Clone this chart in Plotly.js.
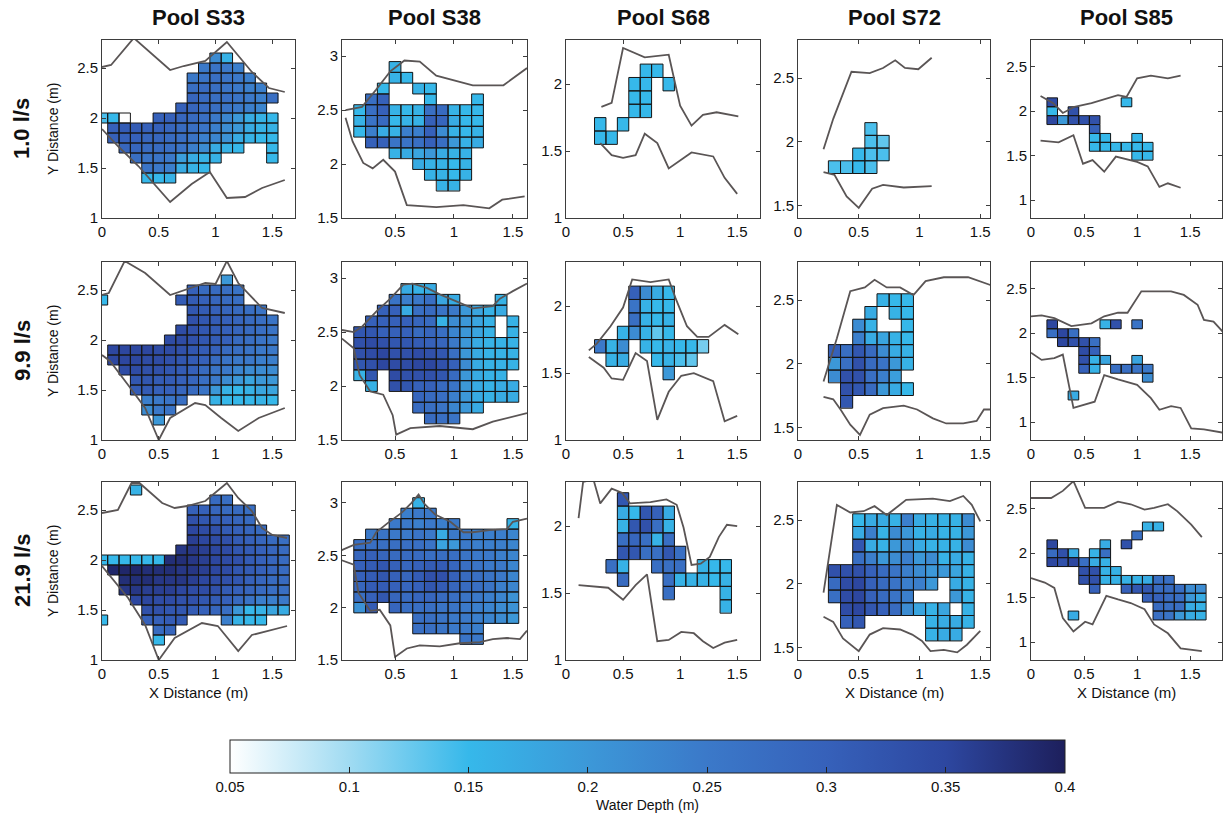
<!DOCTYPE html>
<html>
<head>
<meta charset="utf-8">
<script src="https://cdn.plot.ly/plotly-3.0.1.min.js"></script>
<style>html,body{margin:0;padding:0;background:#fff;}#chart{width:1231px;height:822px;}</style>
</head>
<body>
<div id="chart"></div>
<script>
const _ = null;
const poolNames = ['Pool S33', 'Pool S38', 'Pool S68', 'Pool S72', 'Pool S85'];
const flowLabels = ['1.0 l/s', '9.9 l/s', '21.9 l/s'];
const depthTicks = [0.05, 0.1, 0.15, 0.2, 0.25, 0.3, 0.35, 0.4];

// ---------- Row 1 : 1.0 l/s ----------
const S33_1_x = [0,0.1,0.2,0.3,0.4,0.5,0.6,0.7,0.8,0.9,1.0,1.1,1.2,1.3,1.4,1.5];
const S33_1_y = [2.6,2.5,2.4,2.3,2.2,2.1,2.0,1.9,1.8,1.7,1.6,1.5,1.4];
const S33_1_depth = [
 [_,_,_,_,_,_,_,_,_,_,.22,.16,_,_,_,_],
 [_,_,_,_,_,_,_,_,_,.25,.26,.25,.24,_,_,_],
 [_,_,_,_,_,_,_,_,.25,.26,.27,.26,.25,.24,_,_],
 [_,_,_,_,_,_,_,_,.27,.28,.27,.26,.25,.24,.24,_],
 [_,_,_,_,_,_,_,_,.29,.28,.27,.27,.26,.25,.24,.27],
 [_,_,_,_,_,_,_,.3,.29,.28,.27,.26,.25,.24,.23,_],
 [.14,.15,.05,_,_,.3,.3,.29,.28,.27,.25,.23,.2,.17,.16,.15],
 [_,.3,.31,.31,.3,.3,.29,.28,.27,.26,.24,.22,.2,.17,.16,.16],
 [_,.3,.3,.3,.29,.29,.28,.27,.26,.24,.23,.21,.17,.16,.15,.15],
 [_,_,.29,.29,.28,.28,.27,.26,.24,.22,.17,.16,.15,_,_,.15],
 [_,_,_,.27,.26,.26,.25,.19,.17,.16,.16,_,_,_,_,.15],
 [_,_,_,_,.26,.25,.24,.17,.16,.15,_,_,_,_,_,_],
 [_,_,_,_,.15,.15,.16,_,_,_,_,_,_,_,_,_]
];
const S33_1_upper = [[0,2.51],[0.08,2.53],[0.28,2.8],[0.6,2.48],[0.72,2.52],[0.91,2.57],[1.1,2.76],[1.32,2.46],[1.47,2.3],[1.61,2.26]];
const S33_1_lower = [[0,1.89],[0.14,1.72],[0.32,1.52],[0.6,1.16],[0.79,1.34],[0.95,1.46],[1.1,1.2],[1.26,1.21],[1.41,1.3],[1.61,1.38]];

const S38_1_x = [0.2,0.3,0.4,0.5,0.6,0.7,0.8,0.9,1.0,1.1,1.2];
const S38_1_y = [2.9,2.8,2.7,2.6,2.5,2.4,2.3,2.2,2.1,2.0,1.9,1.8];
const S38_1_depth = [
 [_,_,_,.16,_,_,_,_,_,_,_],
 [_,_,_,.16,.15,_,_,_,_,_,_],
 [_,_,.15,_,_,.16,.15,_,_,_,_],
 [_,.27,.3,_,_,_,.15,_,_,_,.15],
 [.15,.27,.3,.16,.15,.16,.27,.28,.16,.15,.15],
 [.16,.26,.28,.15,.16,.16,.3,.29,.17,.15,.15],
 [.15,.24,.17,.16,.24,.24,.3,.22,.16,.15,.16],
 [_,.3,.3,.26,.26,.27,.3,.27,.2,.16,.17],
 [_,_,_,.16,.17,.18,.2,.17,.16,.16,_],
 [_,_,_,_,_,.17,.16,.16,.15,.16,_],
 [_,_,_,_,_,_,.16,.16,.15,.16,_],
 [_,_,_,_,_,_,_,.16,.16,_,_]
];
const S38_1_upper = [[0.08,2.5],[0.22,2.53],[0.34,2.69],[0.46,2.86],[0.58,2.96],[0.71,2.95],[0.85,2.82],[1.16,2.73],[1.42,2.73],[1.62,2.89]];
const S38_1_lower = [[0.08,2.43],[0.14,2.21],[0.23,2.01],[0.31,1.96],[0.4,2.04],[0.5,1.93],[0.6,1.62],[0.85,1.6],[1.08,1.62],[1.3,1.59],[1.41,1.67],[1.6,1.7]];

const S68_1_x = [0.3,0.4,0.5,0.6,0.7,0.8,0.9];
const S68_1_y = [2.1,2.0,1.9,1.8,1.7,1.6];
const S68_1_depth = [
 [_,_,_,_,.15,.15,_],
 [_,_,_,.15,.15,_,.15],
 [_,_,_,.15,.15,_,_],
 [_,_,_,.15,.15,_,_],
 [.15,_,.15,_,_,_,_],
 [.15,.15,_,_,_,_,_]
];
const S68_1_upper = [[0.31,1.83],[0.4,1.86],[0.5,2.27],[0.69,2.2],[0.9,2.22],[1.0,1.84],[1.1,1.69],[1.2,1.77],[1.32,1.79],[1.51,1.76]];
const S68_1_lower = [[0.3,1.56],[0.4,1.47],[0.5,1.45],[0.61,1.47],[0.69,1.63],[0.8,1.56],[0.9,1.37],[1.0,1.43],[1.1,1.49],[1.29,1.46],[1.39,1.3],[1.5,1.18]];

const S72_1_x = [0.3,0.4,0.5,0.6,0.7];
const S72_1_y = [2.1,2.0,1.9,1.8];
const S72_1_depth = [
 [_,_,_,.14,_],
 [_,_,_,.14,.13],
 [_,_,.15,.14,.14],
 [.14,.14,.15,.14,_]
];
const S72_1_upper = [[0.21,1.94],[0.29,2.18],[0.44,2.55],[0.59,2.54],[0.7,2.58],[0.8,2.64],[0.88,2.58],[0.99,2.57],[1.1,2.66]];
const S72_1_lower = [[0.21,1.76],[0.3,1.74],[0.4,1.57],[0.5,1.48],[0.61,1.63],[0.7,1.66],[0.87,1.64],[1.1,1.65]];

const S85_1_x = [0.2,0.3,0.4,0.5,0.6,0.7,0.8,0.9,1.0,1.1];
const S85_1_y = [2.1,2.0,1.9,1.8,1.7,1.6,1.5];
const S85_1_depth = [
 [.34,_,_,_,_,_,_,.15,_,_],
 [.15,_,.33,_,_,_,_,_,_,_],
 [.35,.2,.33,.33,.33,_,_,_,_,_],
 [_,_,_,_,.3,_,_,_,_,_],
 [_,_,_,_,.15,.15,_,_,.15,_],
 [_,_,_,_,.15,.15,.15,.15,.15,.15],
 [_,_,_,_,_,_,_,_,.15,.15]
];
const S85_1_upper = [[0.09,2.17],[0.21,2.09],[0.3,1.98],[0.41,2.05],[0.57,2.09],[0.69,2.13],[0.82,2.18],[0.9,2.16],[1.0,2.37],[1.13,2.4],[1.29,2.37],[1.41,2.4]];
const S85_1_lower = [[0.09,1.67],[0.26,1.65],[0.4,1.73],[0.49,1.41],[0.58,1.45],[0.69,1.32],[0.8,1.49],[1.0,1.43],[1.1,1.38],[1.21,1.15],[1.29,1.19],[1.41,1.14]];

// ---------- Row 2 : 9.9 l/s ----------
const S33_2_x = [0,0.1,0.2,0.3,0.4,0.5,0.6,0.7,0.8,0.9,1.0,1.1,1.2,1.3,1.4,1.5];
const S33_2_y = [2.6,2.5,2.4,2.3,2.2,2.1,2.0,1.9,1.8,1.7,1.6,1.5,1.4,1.3,1.2];
const S33_2_depth = [
 [_,_,_,_,_,_,_,_,_,_,_,.2,_,_,_,_],
 [_,_,_,_,_,_,_,_,.3,.28,.28,.27,.26,_,_,_],
 [.15,_,_,_,_,_,_,.31,.31,.3,.29,.28,.27,_,_,_],
 [_,_,_,_,_,_,_,_,.32,.31,.3,.29,.28,.27,.26,_],
 [_,_,_,_,_,_,_,_,.33,.32,.31,.3,.29,.28,.27,.26],
 [_,_,_,_,_,_,_,.34,.33,.32,.31,.3,.29,.28,.27,.26],
 [_,_,_,_,_,_,.34,.34,.33,.32,.31,.3,.28,.27,.26,.25],
 [_,.35,.35,.35,.35,.34,.34,.33,.32,.31,.3,.28,.27,.26,.25,.25],
 [_,.35,.35,.35,.34,.34,.33,.32,.31,.3,.28,.26,.25,.25,.24,.24],
 [_,_,.34,.34,.33,.33,.32,.31,.3,.28,.26,.25,.23,.22,.22,.22],
 [_,_,_,.32,.32,.31,.31,.3,.29,.27,.25,.22,.2,.18,.2,.2],
 [_,_,_,.31,.31,.3,.3,.29,.28,.26,.2,.16,.15,.16,.18,.18],
 [_,_,_,_,.24,.25,.26,.27,_,_,.16,.15,.15,.15,.16,.15],
 [_,_,_,_,.22,.25,.26,_,_,_,_,_,_,_,_,_],
 [_,_,_,_,_,.2,_,_,_,_,_,_,_,_,_,_]
];
const S33_2_upper = [[0,2.45],[0.06,2.47],[0.2,2.79],[0.38,2.67],[0.6,2.45],[0.73,2.5],[0.91,2.57],[1.0,2.56],[1.1,2.79],[1.2,2.57],[1.41,2.32],[1.61,2.27]];
const S33_2_lower = [[0,1.85],[0.07,1.79],[0.23,1.55],[0.38,1.32],[0.5,1.0],[0.6,1.22],[0.82,1.37],[0.91,1.35],[1.05,1.22],[1.2,1.09],[1.38,1.22],[1.61,1.32]];

const S38_2_x = [0.2,0.3,0.4,0.5,0.6,0.7,0.8,0.9,1.0,1.1,1.2,1.3,1.4,1.5];
const S38_2_y = [2.9,2.8,2.7,2.6,2.5,2.4,2.3,2.2,2.1,2.0,1.9,1.8,1.7];
const S38_2_depth = [
 [_,_,_,_,.17,.16,.17,_,_,_,_,_,_,_],
 [_,_,_,.26,.24,.25,.27,.18,.17,_,_,_,.16,_],
 [_,_,.3,.3,.17,.27,.28,.26,.25,.2,.18,.16,.17,_],
 [_,.3,.3,.3,.3,.29,.28,.16,.22,.2,.18,.16,_,.16],
 [.32,.32,.3,.3,.3,.28,.29,.27,.23,.2,.18,.16,_,.16],
 [.33,.34,.33,.32,.32,.31,.3,.29,.25,.2,.17,.16,.16,.16],
 [.33,.34,.35,.33,.33,.34,.33,.32,.27,.2,.17,.16,.16,.16],
 [.32,.33,.35,.34,.34,.35,.35,.33,.3,.22,.17,.16,.16,.16],
 [.16,.32,_,.34,.33,.33,.33,.32,.28,.2,.17,.16,.16,_],
 [_,.16,_,.33,.32,.3,.3,.28,.26,.2,.17,.16,.17,.17],
 [_,_,_,_,_,.29,.28,.27,.24,.2,.17,.16,.17,.17],
 [_,_,_,_,_,.28,.27,.26,.23,.2,.17,_,_,_],
 [_,_,_,_,_,_,.28,.27,.26,_,_,_,_,_]
];
const S38_2_upper = [[0.05,2.52],[0.15,2.5],[0.22,2.55],[0.34,2.69],[0.46,2.81],[0.57,2.94],[0.65,2.95],[0.77,2.91],[0.88,2.85],[1.05,2.77],[1.16,2.72],[1.33,2.74],[1.39,2.81],[1.5,2.88],[1.62,2.95]];
const S38_2_lower = [[0.05,2.44],[0.15,2.35],[0.2,2.1],[0.29,1.95],[0.4,1.92],[0.48,1.73],[0.51,1.55],[0.63,1.61],[0.88,1.63],[1.16,1.6],[1.33,1.67],[1.5,1.72],[1.62,1.75]];

const S68_2_x = [0.3,0.4,0.5,0.6,0.7,0.8,0.9,1.0,1.1,1.2];
const S68_2_y = [2.1,2.0,1.9,1.8,1.7,1.6,1.5];
const S68_2_depth = [
 [_,_,_,.3,.22,.17,.15,_,_,_],
 [_,_,_,.26,.16,.15,.15,_,_,_],
 [_,_,_,.27,.16,.15,.16,_,_,_],
 [_,_,.16,.22,.16,.13,.15,_,_,_],
 [.25,.16,.22,_,.16,.15,.16,.15,.15,.12],
 [_,.16,.17,_,_,.15,.16,.14,.13,_],
 [_,_,_,_,_,_,.2,_,_,_]
];
const S68_2_upper = [[0.2,1.67],[0.27,1.72],[0.39,1.85],[0.5,1.99],[0.58,2.2],[0.74,2.18],[0.9,2.2],[0.96,2.06],[1.06,1.85],[1.15,1.77],[1.25,1.77],[1.39,1.86],[1.51,1.79]];
const S68_2_lower = [[0.2,1.62],[0.33,1.54],[0.4,1.46],[0.5,1.45],[0.61,1.65],[0.71,1.59],[0.8,1.15],[0.9,1.36],[1.01,1.48],[1.12,1.5],[1.29,1.44],[1.39,1.14],[1.5,1.18]];

const S72_2_x = [0.3,0.4,0.5,0.6,0.7,0.8,0.9];
const S72_2_y = [2.5,2.4,2.3,2.2,2.1,2.0,1.9,1.8,1.7];
const S72_2_depth = [
 [_,_,_,_,.16,.15,.15],
 [_,_,_,.17,_,.16,.15],
 [_,_,.22,.16,_,_,.15],
 [_,_,.24,.17,.18,.16,.15],
 [.3,.27,.32,.28,.22,.17,.16],
 [.2,.27,.33,.28,.26,.2,.16],
 [.22,.33,.33,.27,.24,.19,_],
 [_,.33,.32,.28,.2,.17,.15],
 [_,.32,_,_,_,_,_]
];
const S72_2_upper = [[0.21,1.86],[0.32,2.2],[0.43,2.57],[0.55,2.6],[0.63,2.66],[0.73,2.6],[0.84,2.6],[0.95,2.54],[1.05,2.65],[1.2,2.68],[1.4,2.68],[1.53,2.64],[1.61,2.61]];
const S72_2_lower = [[0.21,1.74],[0.29,1.72],[0.35,1.64],[0.43,1.52],[0.51,1.44],[0.59,1.6],[0.7,1.65],[0.87,1.67],[0.98,1.64],[1.11,1.57],[1.22,1.53],[1.36,1.53],[1.47,1.55],[1.53,1.64],[1.61,1.64]];

const S85_2_x = [0.2,0.3,0.4,0.5,0.6,0.7,0.8,0.9,1.0,1.1];
const S85_2_y = [2.1,2.0,1.9,1.8,1.7,1.6,1.5,1.4,1.3];
const S85_2_depth = [
 [.35,_,_,_,_,.16,.33,_,.26,_],
 [.27,.35,.27,_,_,_,_,_,_,_],
 [_,.35,.33,.33,.27,_,_,_,_,_],
 [_,_,_,.34,.3,_,_,_,_,_],
 [_,_,_,.33,.16,.18,_,_,.18,_],
 [_,_,_,.3,.16,_,.27,.27,.26,.25],
 [_,_,_,_,_,_,_,_,_,.22],
 [_,_,_,_,_,_,_,_,_,_],
 [_,_,.17,_,_,_,_,_,_,_]
];
const S85_2_upper = [[0,2.19],[0.1,2.2],[0.22,2.17],[0.38,2.08],[0.57,2.11],[0.69,2.19],[0.82,2.23],[0.91,2.23],[1.04,2.47],[1.16,2.47],[1.32,2.47],[1.44,2.43],[1.57,2.32],[1.63,2.15],[1.72,2.13],[1.82,2.0]];
const S85_2_lower = [[0,1.78],[0.1,1.7],[0.22,1.72],[0.3,1.76],[0.4,1.16],[0.6,1.23],[0.69,1.53],[0.82,1.48],[1.0,1.42],[1.13,1.27],[1.21,1.14],[1.32,1.18],[1.41,1.16],[1.51,0.93],[1.63,0.92],[1.82,0.88]];

// ---------- Row 3 : 21.9 l/s ----------
const S33_3_x = [0,0.1,0.2,0.3,0.4,0.5,0.6,0.7,0.8,0.9,1.0,1.1,1.2,1.3,1.4,1.5,1.6];
const S33_3_y = [2.7,2.6,2.5,2.4,2.3,2.2,2.1,2.0,1.9,1.8,1.7,1.6,1.5,1.4,1.3,1.2];
const S33_3_depth = [
 [_,_,_,.16,_,_,_,_,_,_,_,_,_,_,_,_,_],
 [_,_,_,_,_,_,_,_,_,_,.28,.27,_,_,_,_,_],
 [_,_,_,_,_,_,_,_,.3,.3,.29,.28,.28,.27,_,_,_],
 [_,_,_,_,_,_,_,_,.33,.32,.31,.3,.29,.28,_,_,_],
 [_,_,_,_,_,_,_,_,.35,.34,.33,.31,.3,.29,.28,_,_],
 [_,_,_,_,_,_,_,_,.36,.35,.34,.33,.31,.3,.29,.28,.27],
 [_,_,_,_,_,_,_,.37,.37,.36,.35,.34,.32,.31,.3,.29,.28],
 [.15,.15,.15,.15,.15,.15,.38,.38,.37,.36,.35,.34,.33,.31,.3,.29,.28],
 [_,.39,.39,.39,.38,.38,.38,.37,.37,.36,.35,.34,.32,.31,.3,.29,.28],
 [_,_,.38,.38,.38,.37,.37,.37,.36,.35,.34,.33,.32,.3,.29,.28,.28],
 [_,_,.37,.37,.36,.36,.36,.35,.34,.34,.33,.31,.3,.29,.28,.27,.27],
 [_,_,_,.35,.35,.34,.34,.33,.33,.32,.31,.3,.28,.26,.24,.24,.25],
 [_,_,_,_,.33,.33,.32,.32,.31,.3,.29,.27,.2,.15,.16,.18,.17],
 [.15,_,_,_,.3,.3,.31,.31,_,_,_,.24,.16,.15,.15,_,_],
 [_,_,_,_,_,.28,.29,_,_,_,_,_,_,_,_,_,_],
 [_,_,_,_,_,.15,_,_,_,_,_,_,_,_,_,_,_]
];
const S33_3_upper = [[0,2.47],[0.14,2.5],[0.26,2.77],[0.33,2.77],[0.53,2.57],[0.64,2.52],[0.75,2.54],[0.91,2.59],[1.1,2.77],[1.2,2.62],[1.32,2.49],[1.41,2.32],[1.5,2.25],[1.63,2.22]];
const S33_3_lower = [[0,1.94],[0.23,1.62],[0.38,1.35],[0.5,1.0],[0.64,1.22],[0.88,1.37],[1.02,1.34],[1.11,1.22],[1.2,1.09],[1.32,1.25],[1.47,1.29],[1.63,1.34]];

const S38_3_x = [0.2,0.3,0.4,0.5,0.6,0.7,0.8,0.9,1.0,1.1,1.2,1.3,1.4,1.5];
const S38_3_y = [3.0,2.9,2.8,2.7,2.6,2.5,2.4,2.3,2.2,2.1,2.0,1.9,1.8,1.7];
const S38_3_depth = [
 [_,_,_,_,_,.16,_,_,_,_,_,_,_,_],
 [_,_,_,_,.24,.25,.25,_,_,_,_,_,_,_],
 [_,_,_,.25,.25,.24,.25,.24,.25,_,_,_,_,.16],
 [_,.25,.26,.25,.25,.26,.25,.17,.25,.25,.24,.24,.24,.23],
 [.27,.27,.27,.27,.27,.27,.26,.18,.2,.25,.24,.24,.24,.23],
 [.29,.3,.29,.28,.28,.28,.27,.27,.27,.26,.25,.25,.24,.23],
 [.3,.31,.32,.3,.29,.3,.31,.31,.29,.27,.26,.25,.25,.23],
 [.3,.31,.32,.3,.29,.31,.33,.33,.3,.28,.27,.26,.25,.23],
 [.29,.31,.31,.3,.29,.3,.32,.31,.29,.28,.27,.26,.24,.23],
 [.27,.3,.32,.29,.28,.29,.29,.28,.27,.26,.25,.24,.23,.21],
 [.21,.31,_,.29,.27,.27,.27,.26,.26,.25,.24,.23,.22,.21],
 [_,_,_,_,_,.27,.27,.26,.25,.25,.24,.23,.22,.2],
 [_,_,_,_,_,.27,.27,.26,.25,.25,.24,_,_,_],
 [_,_,_,_,_,_,_,_,_,.26,.25,_,_,_]
];
const S38_3_upper = [[0.03,2.54],[0.15,2.6],[0.29,2.62],[0.34,2.72],[0.44,2.81],[0.56,2.91],[0.64,3.0],[0.7,3.08],[0.75,2.99],[0.84,2.89],[0.97,2.82],[1.08,2.72],[1.16,2.72],[1.3,2.74],[1.45,2.75],[1.5,2.82],[1.62,2.85]];
const S38_3_lower = [[0.03,2.46],[0.15,2.41],[0.19,2.14],[0.29,1.97],[0.37,1.98],[0.46,1.83],[0.5,1.53],[0.6,1.61],[0.71,1.64],[0.88,1.63],[1.05,1.66],[1.22,1.67],[1.33,1.7],[1.45,1.71],[1.56,1.7],[1.62,1.78]];

const S68_3_x = [0.4,0.5,0.6,0.7,0.8,0.9,1.0,1.1,1.2,1.3,1.4];
const S68_3_y = [2.2,2.1,2.0,1.9,1.8,1.7,1.6,1.5,1.4];
const S68_3_depth = [
 [_,.32,_,_,_,_,_,_,_,_,_],
 [_,.17,.15,.32,.3,.17,_,_,_,_,_],
 [_,.16,.32,.33,.27,.16,_,_,_,_,_],
 [_,.27,.29,.27,.16,.27,_,_,_,_,_],
 [_,.32,.32,.27,.27,.32,.27,_,_,_,_],
 [.27,.16,_,_,.27,.27,.27,_,.16,.15,.15],
 [_,.28,_,_,_,.27,.16,.16,.16,.15,.16],
 [_,_,_,_,_,.27,_,_,_,_,.16],
 [_,_,_,_,_,_,_,_,_,_,.16]
];
const S68_3_upper = [[0.11,2.06],[0.15,2.33],[0.24,2.35],[0.3,2.17],[0.4,2.28],[0.49,2.25],[0.56,2.17],[0.74,2.18],[0.88,2.2],[0.97,2.16],[1.03,1.99],[1.1,1.71],[1.18,1.72],[1.26,1.77],[1.34,1.92],[1.41,2.01],[1.5,2.0]];
const S68_3_lower = [[0.11,1.56],[0.37,1.54],[0.5,1.45],[0.61,1.56],[0.71,1.64],[0.8,1.14],[0.9,1.15],[1.01,1.21],[1.12,1.2],[1.2,1.14],[1.29,1.09],[1.39,1.13],[1.5,1.15]];

const S72_3_x = [0.3,0.4,0.5,0.6,0.7,0.8,0.9,1.0,1.1,1.2,1.3,1.4];
const S72_3_y = [2.5,2.4,2.3,2.2,2.1,2.0,1.9,1.8,1.7,1.6];
const S72_3_depth = [
 [_,_,.15,.17,.17,.16,.24,.17,.16,.16,.16,.22],
 [_,_,.17,.24,.16,.22,.2,.16,.17,.16,.16,.2],
 [_,_,.32,.17,.16,.2,.22,.17,.16,.16,.16,.22],
 [_,_,.27,.24,.2,.22,.24,.2,.22,.16,.17,.16],
 [.33,.33,.33,.3,.28,.26,.24,.22,.2,.2,.18,.16],
 [.28,.34,.35,.3,.28,.26,.24,.24,.2,_,.17,.16],
 [.27,.34,.35,.3,.28,.26,.24,_,_,_,.2,.16],
 [_,.34,.35,.32,.3,.28,.22,.18,.16,.18,_,.16],
 [_,.3,.32,_,_,_,_,_,.16,.17,.17,.16],
 [_,_,_,_,_,_,_,_,.16,.17,.17,_]
];
const S72_3_upper = [[0.21,1.93],[0.32,2.62],[0.43,2.56],[0.54,2.57],[0.63,2.61],[0.73,2.54],[0.81,2.6],[0.89,2.66],[1.11,2.67],[1.25,2.65],[1.36,2.69],[1.43,2.62],[1.5,2.49]];
const S72_3_lower = [[0.21,1.74],[0.29,1.7],[0.37,1.57],[0.44,1.52],[0.5,1.47],[0.59,1.6],[0.7,1.65],[0.84,1.64],[0.94,1.6],[1.02,1.55],[1.09,1.47],[1.2,1.48],[1.31,1.46],[1.39,1.52],[1.5,1.63]];

const S85_3_x = [0.2,0.3,0.4,0.5,0.6,0.7,0.8,0.9,1.0,1.1,1.2,1.3,1.4,1.5,1.6];
const S85_3_y = [2.3,2.2,2.1,2.0,1.9,1.8,1.7,1.6,1.5,1.4,1.3];
const S85_3_depth = [
 [_,_,_,_,_,_,_,_,_,.16,.16,_,_,_,_],
 [_,_,_,_,_,_,_,_,.27,_,_,_,_,_,_],
 [.35,_,_,_,_,.17,_,.33,_,_,_,_,_,_,_],
 [.28,.33,.17,_,.16,.27,_,_,_,_,_,_,_,_,_],
 [.35,.33,.35,.27,.17,.16,_,_,_,_,_,_,_,_,_],
 [_,_,_,.33,.33,.16,.16,_,_,_,_,_,_,_,_],
 [_,_,_,.33,.33,.16,.16,.16,.16,.17,.27,.27,_,_,_],
 [_,_,_,_,.3,_,_,.3,.32,.32,.28,.28,.27,.22,.22],
 [_,_,_,_,_,_,_,_,_,.3,.3,.28,.27,.2,.17],
 [_,_,_,_,_,_,_,_,_,_,.28,.27,.27,.17,.16],
 [_,_,.17,_,_,_,_,_,_,_,.27,.26,.2,.17,.16]
];
const S85_3_upper = [[0,2.62],[0.19,2.62],[0.3,2.7],[0.4,2.81],[0.51,2.51],[0.69,2.51],[0.82,2.58],[0.94,2.55],[1.07,2.49],[1.16,2.51],[1.29,2.55],[1.38,2.47],[1.51,2.32],[1.61,2.18]];
const S85_3_lower = [[0,1.72],[0.13,1.67],[0.22,1.61],[0.3,1.27],[0.4,1.12],[0.51,1.23],[0.58,1.2],[0.71,1.52],[0.82,1.48],[0.94,1.44],[1.07,1.37],[1.16,1.2],[1.29,1.1],[1.41,0.93],[1.61,0.9]];

// ---------- assembly ----------
const panels = [
 [ {x:S33_1_x,y:S33_1_y,z:S33_1_depth,up:S33_1_upper,lo:S33_1_lower},
   {x:S38_1_x,y:S38_1_y,z:S38_1_depth,up:S38_1_upper,lo:S38_1_lower},
   {x:S68_1_x,y:S68_1_y,z:S68_1_depth,up:S68_1_upper,lo:S68_1_lower},
   {x:S72_1_x,y:S72_1_y,z:S72_1_depth,up:S72_1_upper,lo:S72_1_lower},
   {x:S85_1_x,y:S85_1_y,z:S85_1_depth,up:S85_1_upper,lo:S85_1_lower} ],
 [ {x:S33_2_x,y:S33_2_y,z:S33_2_depth,up:S33_2_upper,lo:S33_2_lower},
   {x:S38_2_x,y:S38_2_y,z:S38_2_depth,up:S38_2_upper,lo:S38_2_lower},
   {x:S68_2_x,y:S68_2_y,z:S68_2_depth,up:S68_2_upper,lo:S68_2_lower},
   {x:S72_2_x,y:S72_2_y,z:S72_2_depth,up:S72_2_upper,lo:S72_2_lower},
   {x:S85_2_x,y:S85_2_y,z:S85_2_depth,up:S85_2_upper,lo:S85_2_lower} ],
 [ {x:S33_3_x,y:S33_3_y,z:S33_3_depth,up:S33_3_upper,lo:S33_3_lower},
   {x:S38_3_x,y:S38_3_y,z:S38_3_depth,up:S38_3_upper,lo:S38_3_lower},
   {x:S68_3_x,y:S68_3_y,z:S68_3_depth,up:S68_3_upper,lo:S68_3_lower},
   {x:S72_3_x,y:S72_3_y,z:S72_3_depth,up:S72_3_upper,lo:S72_3_lower},
   {x:S85_3_x,y:S85_3_y,z:S85_3_depth,up:S85_3_upper,lo:S85_3_lower} ]
];

// layout geometry (pixels in a 1231x822 page)
const W = 1231, H = 822;
const colPx = [[102,295],[342,527],[566,760],[798,990],[1031,1222]];
const rowPx = [[40,218],[262,440],[482,660]];
const xRanges = [[0,1.7],[0.05,1.62],[0,1.7],[0,1.58],[0,1.8]];
const yRanges = [
 [[1,2.78],[1.5,3.15],[1,2.33],[1.4,2.8],[0.8,2.8]],
 [[1,2.78],[1.5,3.15],[1,2.33],[1.4,2.8],[0.8,2.8]],
 [[1,2.78],[1.5,3.2],[1,2.33],[1.4,2.8],[0.8,2.8]]
];
const FONT = 'Liberation Sans, Arial, Helvetica, sans-serif';
const AXC = '#3d3d3d';

function outline(xs, ys, z) {
  const hx = Math.abs(xs[1] - xs[0]) / 2, hy = Math.abs(ys[1] - ys[0]) / 2;
  const X = [], Y = [];
  z.forEach((row, i) => row.forEach((v, j) => {
    if (v === null) return;
    const cx = xs[j], cy = ys[i];
    X.push(cx - hx, cx + hx, cx + hx, cx - hx, cx - hx, null);
    Y.push(cy - hy, cy - hy, cy + hy, cy + hy, cy - hy, null);
  }));
  return {X, Y};
}

const traces = [];
const layout = {
  width: W, height: H,
  margin: {l:0, r:0, t:0, b:0},
  paper_bgcolor: '#ffffff', plot_bgcolor: '#ffffff',
  showlegend: false,
  font: {family: FONT, color: '#111', size: 15},
  coloraxis: {
    cmin: 0.05, cmax: 0.4,
    colorscale: [
      [0, '#ffffff'], [0.143, '#a0dbf2'], [0.286, '#36b8ea'], [0.429, '#3c98d8'],
      [0.571, '#3b79c9'], [0.714, '#3661ba'], [0.857, '#2d47a0'], [1, '#1d1f5c']
    ],
    colorbar: {
      orientation: 'h', x: 647.5 / W, xanchor: 'center', len: 835 / W, lenmode: 'fraction',
      y: 1 - 740 / H, yanchor: 'top', thickness: 33, thicknessmode: 'pixels',
      xpad: 0, ypad: 0, outlinewidth: 1, outlinecolor: '#222',
      ticks: 'inside', ticklen: 6, tickcolor: '#222',
      tickvals: depthTicks, tickfont: {family: FONT, size: 15, color: '#111'},
      title: {text: 'Water Depth (m)', side: 'bottom', font: {family: FONT, size: 14, color: '#111'}}
    }
  },
  annotations: []
};

let n = 0;
for (let r = 0; r < 3; r++) {
  for (let c = 0; c < 5; c++) {
    n++;
    const p = panels[r][c];
    const xa = 'x' + (n === 1 ? '' : n), ya = 'y' + (n === 1 ? '' : n);
    const yAsc = p.y.slice().reverse();
    const zAsc = p.z.slice().reverse();
    traces.push({type:'heatmap', x:p.x, y:yAsc, z:zAsc, coloraxis:'coloraxis',
      xaxis:xa, yaxis:ya, hoverinfo:'skip'});
    const o = outline(p.x, p.y, p.z);
    traces.push({type:'scatter', mode:'lines', x:o.X, y:o.Y, xaxis:xa, yaxis:ya,
      line:{color:'#161616', width:1}, hoverinfo:'skip'});
    [p.up, p.lo].forEach(L => traces.push({type:'scatter', mode:'lines',
      x:L.map(d => d[0]), y:L.map(d => d[1]), xaxis:xa, yaxis:ya,
      line:{color:'#5a5555', width:1.8}, hoverinfo:'skip'}));

    const common = {showgrid:false, zeroline:false, showline:true, linecolor:AXC, linewidth:1,
      mirror:'ticks', ticks:'inside', ticklen:4, tickcolor:AXC, dtick:0.5, tick0:0,
      tickfont:{family:FONT, size:15, color:'#111'}, fixedrange:true};
    layout['xaxis' + (n === 1 ? '' : n)] = Object.assign({}, common, {
      domain:[colPx[c][0] / W, colPx[c][1] / W], range:xRanges[c], anchor:ya});
    layout['yaxis' + (n === 1 ? '' : n)] = Object.assign({}, common, {
      domain:[1 - rowPx[r][1] / H, 1 - rowPx[r][0] / H], range:yRanges[r][c], anchor:xa});
  }
}

// pool titles
poolNames.forEach((t, c) => layout.annotations.push({
  text:'<b>' + t + '</b>', xref:'paper', yref:'paper', showarrow:false,
  x:(colPx[c][0] + colPx[c][1]) / 2 / W, y:1 - 18 / H, xanchor:'center', yanchor:'middle',
  font:{family:FONT, size:22, color:'#111'}}));
// flow labels and y-axis titles
flowLabels.forEach((t, r) => {
  const yc = 1 - (rowPx[r][0] + rowPx[r][1]) / 2 / H;
  layout.annotations.push({text:'<b>' + t + '</b>', xref:'paper', yref:'paper', showarrow:false,
    x:22 / W, y:yc, xanchor:'center', yanchor:'middle', textangle:-90,
    font:{family:FONT, size:22, color:'#111'}});
  layout.annotations.push({text:'Y Distance (m)', xref:'paper', yref:'paper', showarrow:false,
    x:53 / W, y:yc, xanchor:'center', yanchor:'middle', textangle:-90,
    font:{family:FONT, size:14, color:'#111'}});
});
// x-axis titles under bottom row
[0, 3, 4].forEach(c => layout.annotations.push({text:'X Distance (m)', xref:'paper', yref:'paper',
  showarrow:false, x:(colPx[c][0] + colPx[c][1]) / 2 / W, y:1 - 692 / H, xanchor:'center', yanchor:'middle',
  font:{family:FONT, size:15, color:'#111'}}));

Plotly.newPlot('chart', traces, layout, {displayModeBar:false, staticPlot:true});
</script>
</body>
</html>
